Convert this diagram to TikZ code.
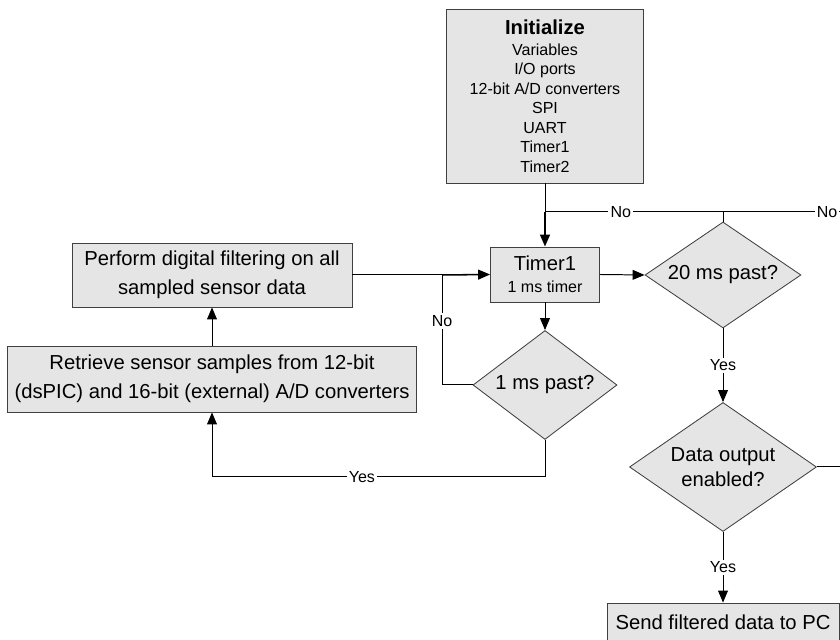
\documentclass[tikz,border=0pt]{standalone}
\usepackage{fontspec}
\setmainfont{Liberation Sans}
\usepackage{tikz}
\usetikzlibrary{arrows.meta,shapes,positioning,calc}

\begin{document}
\begin{tikzpicture}[
    box/.style={draw=black!75, fill=gray!20, line width=0.6pt, align=center, inner sep=0pt,
        font=\fontsize{14.4}{20.5}\selectfont},
    dec/.style={diamond, draw=black!75, fill=gray!20, line width=0.6pt, align=center, inner sep=0pt,
        font=\fontsize{14.4}{18}\selectfont},
    lbl/.style={fill=white, inner sep=1.5pt, font=\fontsize{11.4}{13}\selectfont},
    arr/.style={-{Triangle[length=8.5pt,width=7pt]}},
    line width=0.7pt
  ]
    % Page frame
    \useasboundingbox (0,0) rectangle (21,16);
    \clip (0,0) rectangle (21,16);

    % Blocks
    \node[box, minimum width=4.925cm, minimum height=4.35cm, font=\fontsize{11.4}{13.9}\selectfont] (init) at (13.625,13.6)
      {{\fontsize{14.4}{16}\selectfont\bfseries Initialize}\\[1pt]
       Variables\\ I/O ports\\ 12-bit A/D converters\\ SPI\\ UART\\ Timer1\\ Timer2};
    \node[box, minimum width=2.725cm, minimum height=1.375cm, font=\fontsize{14.4}{15.5}\selectfont] (timer) at (13.625,9.1375)
      {Timer1\\ {\fontsize{11.4}{13}\selectfont 1 ms timer}};
    \node[box, minimum width=7cm, minimum height=1.6cm] (perform) at (5.3,9.125)
      {Perform digital filtering on all\\ sampled sensor data};
    \node[box, minimum width=10.225cm, minimum height=1.65cm] (retrieve) at (5.3,6.525)
      {Retrieve sensor samples from 12-bit\\ (dsPIC) and 16-bit (external) A/D converters};
    \node[box, minimum width=5.8cm, minimum height=0.95cm] (send) at (18.075,0.45)
      {Send filtered data to PC};

    % Decisions
    \node[dec, aspect=1.45, minimum width=3.9cm, minimum height=2.65cm] (past20) at (18.075,9.125) {20 ms past?};
    \node[dec, aspect=1.3, minimum width=3.6cm, minimum height=2.725cm] (past1) at (13.625,6.375) {1 ms past?};
    \node[dec, aspect=1.45, minimum width=4.675cm, minimum height=3.225cm] (dout) at (18.075,4.325) {Data output\\ enabled?};

    % Junctions
    \coordinate (top) at (13.625,10.7);
    \coordinate (nojoin) at (11.05,9.125);
    \coordinate (ybot) at (5.3,4.075);
    \coordinate (rgt) at (21.6,4.325);

    % Connectors
    \draw (init.south) -- (top);
    \draw[arr, line width=1.3pt] (top) -- (timer.north);
    \draw (past20.north) |- node[lbl, pos=0.787] {No} (top);
    \draw (dout.east) -- (rgt) |- (past20.north |- top);
    \node[lbl] (no2) at (20.675,10.7) {No};
    \draw (perform.east) -- (nojoin);
    \draw[arr, line width=1.1pt] (nojoin) -- (timer.west);
    \draw[arr] (timer.east) -- (past20.west);
    \draw[arr] (timer.south) -- (past1.north);
    \draw (past1.west) -| node[lbl, pos=0.79] {No} (nojoin);
    \draw[arr] (past1.south) |- node[lbl, pos=0.775] {Yes} (ybot) -- (retrieve.south);
    \draw[arr] (retrieve.north) -- (perform.south);
    \draw[arr] (past20.south) -- node[lbl] {Yes} (dout.north);
    \draw[arr] (dout.south) -- node[lbl] {Yes} (send.north);
\end{tikzpicture}
\end{document}
